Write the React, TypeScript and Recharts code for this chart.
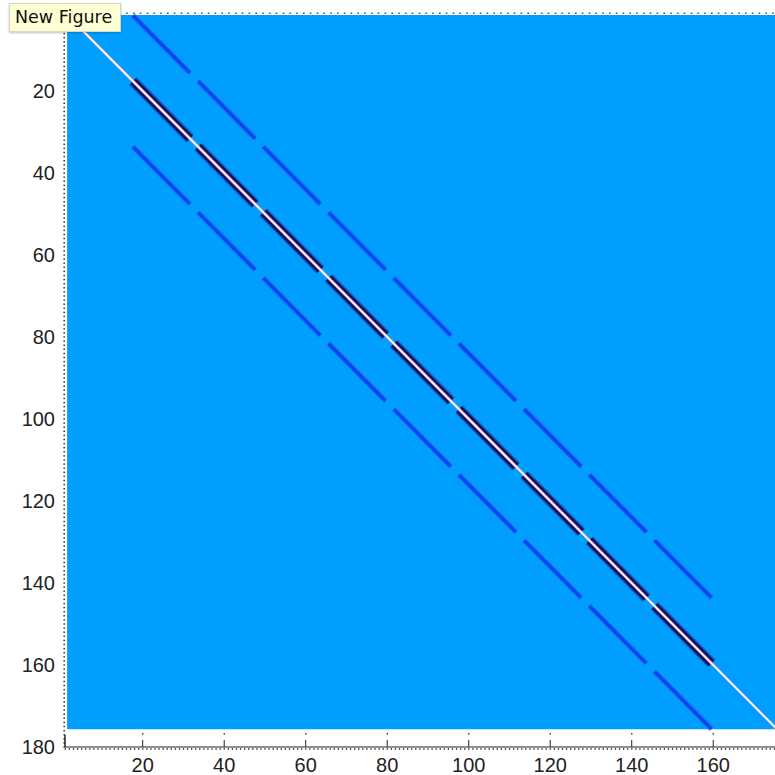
import React from 'react';
import {
  ComposedChart,
  Line,
  XAxis,
  YAxis,
  ReferenceArea,
  ReferenceLine,
} from 'recharts';

// matrix extent (row / column index)
const matrixFirst = 1.45;
const matrixLast = 175.7;

// 16x16 blocks that carry the banded entries
const blockStarts = [17, 33, 49, 65, 81, 97, 113, 129, 145];
const blockEnds = [32, 48, 64, 80, 96, 112, 128, 144, 160];
const bandOffset = 16;

const xTickLabels = [20, 40, 60, 80, 100, 120, 140, 160];
const yTickLabels = [20, 40, 60, 80, 100, 120, 140, 160, 180];

const X_DOMAIN: [number, number] = [0.93, 186.2];
const Y_DOMAIN: [number, number] = [1.05, 180];

// minor ticks every unit along both axes
const xMinor = Array.from({ length: 186 }, (_, i) => i + 1);
const yMinor = Array.from({ length: 179 }, (_, i) => i + 2);

type Pt = { x: number; y: number };

// segment of a diagonal y = x + off, between columns a and b
const seg = (a: number, b: number, off: number): Pt[] => [
  { x: a, y: a + off },
  { x: b, y: b + off },
];

const blockSegs = (off: number) =>
  blockStarts.map((s, i) => seg(s + 0.6, blockEnds[i] - 0.4, off));

const upperSegs = blockSegs(-bandOffset);
const lowerSegs = blockSegs(bandOffset);
const mainSegs = blockSegs(0);
const diagonal = seg(matrixFirst, matrixLast, 0);

const FONT = '"Liberation Sans", Arial, Helvetica, sans-serif';

function XTick(props: any) {
  const { x, y, payload } = props;
  const v = payload.value;
  const major = xTickLabels.includes(v);
  return (
    <g>
      <rect x={x - 0.6} y={y + 1.2} width={1.3} height={1.6} fill="#333" />
      {major && (
        <g>
          <line x1={x} x2={x} y1={y - 7} y2={y} stroke="#222" strokeWidth={1} />
          <rect x={x - 0.6} y={y - 14} width={1.3} height={1.6} fill="#333" />
          <text
            x={x}
            y={y + 25}
            textAnchor="middle"
            fontFamily={FONT}
            fontSize={20}
            fill="#222"
          >
            {v}
          </text>
        </g>
      )}
    </g>
  );
}

function YTick(props: any) {
  const { x, y, payload } = props;
  const v = payload.value;
  const major = yTickLabels.includes(v);
  return (
    <g>
      <rect x={x - 1.6} y={y - 0.7} width={1.6} height={1.4} fill="#333" />
      {major && (
        <text
          x={x - 10}
          y={y + 7}
          textAnchor="end"
          fontFamily={FONT}
          fontSize={20}
          fill="#222"
        >
          {v}
        </text>
      )}
      {v === 180 && (
        <line x1={x} x2={x} y1={y - 12} y2={y} stroke="#222" strokeWidth={1.5} />
      )}
    </g>
  );
}

export default function App() {
  return (
    <div
      style={{
        position: 'absolute',
        left: 0,
        top: 0,
        width: 775,
        height: 775,
        overflow: 'hidden',
        background: '#fff',
      }}
    >
      <ComposedChart
        width={820}
        height={775}
        margin={{ top: 13.3, right: 0, bottom: 0, left: 0 }}
      >
        <XAxis
          type="number"
          dataKey="x"
          domain={X_DOMAIN}
          allowDataOverflow
          ticks={xMinor}
          interval={0}
          tick={(p: any) => <XTick {...p} />}
          tickLine={false}
          tickSize={0}
          tickMargin={0}
          axisLine={{ stroke: '#222', strokeWidth: 1 }}
          height={28}
        />
        <YAxis
          type="number"
          dataKey="y"
          domain={Y_DOMAIN}
          reversed
          allowDataOverflow
          ticks={yMinor}
          interval={0}
          tick={(p: any) => <YTick {...p} />}
          tickLine={false}
          tickSize={0}
          tickMargin={0}
          axisLine={false}
          width={65}
        />
        <ReferenceArea
          x1={matrixFirst}
          x2={matrixLast}
          y1={matrixFirst}
          y2={matrixLast}
          fill="#009fff"
          fillOpacity={1}
          stroke="none"
          ifOverflow="hidden"
        />
        <ReferenceLine
          y={Y_DOMAIN[0]}
          stroke="#555"
          strokeWidth={1.6}
          strokeDasharray="1.6 5.2"
        />

        {/* off-diagonal bands, soft edge then core */}
        {[...upperSegs, ...lowerSegs].map((d, i) => (
          <Line
            key={'og' + i}
            data={d}
            dataKey="y"
            stroke="#1a6cf5"
            strokeWidth={6}
            strokeOpacity={0.6}
            dot={false}
            activeDot={false}
            isAnimationActive={false}
          />
        ))}
        {[...upperSegs, ...lowerSegs].map((d, i) => (
          <Line
            key={'oc' + i}
            data={d}
            dataKey="y"
            stroke="#0b46f0"
            strokeWidth={3.4}
            dot={false}
            activeDot={false}
            isAnimationActive={false}
          />
        ))}

        {/* dark neighbours of the main diagonal */}
        {mainSegs.map((d, i) => (
          <Line
            key={'mg' + i}
            data={d}
            dataKey="y"
            stroke="#1a3aa8"
            strokeWidth={11}
            strokeOpacity={0.6}
            dot={false}
            activeDot={false}
            isAnimationActive={false}
          />
        ))}
        {mainSegs.map((d, i) => (
          <Line
            key={'mc' + i}
            data={d}
            dataKey="y"
            stroke="#1c0c5a"
            strokeWidth={8}
            dot={false}
            activeDot={false}
            isAnimationActive={false}
          />
        ))}

        {/* main diagonal */}
        <Line
          data={diagonal}
          dataKey="y"
          stroke="#9a8cb8"
          strokeWidth={3.4}
          strokeOpacity={0.6}
          dot={false}
          activeDot={false}
          isAnimationActive={false}
        />
        <Line
          data={diagonal}
          dataKey="y"
          stroke="#fff4f6"
          strokeWidth={2}
          dot={false}
          activeDot={false}
          isAnimationActive={false}
        />
      </ComposedChart>
      <div
        style={{
          position: 'absolute',
          left: 9,
          top: 3,
          width: 112,
          height: 29,
          boxSizing: 'border-box',
          background: '#ffffd4',
          border: '1px solid #d8d8c0',
          boxShadow: '0 1px 2px rgba(0,0,0,0.25)',
          fontFamily: '"DejaVu Sans", "Noto Sans", sans-serif',
          fontSize: 17.5,
          color: '#111',
          lineHeight: '27px',
          paddingLeft: 5,
          whiteSpace: 'nowrap',
        }}
      >
        New Figure
      </div>
    </div>
  );
}
